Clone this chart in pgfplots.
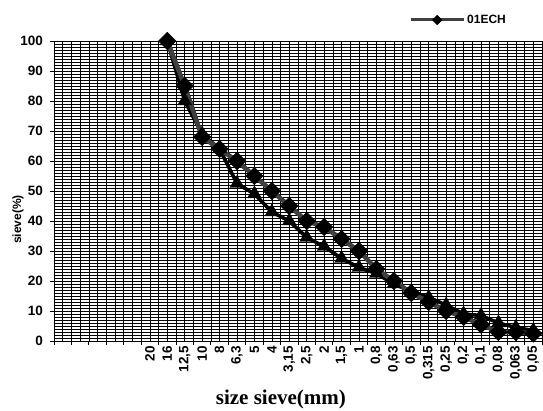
\documentclass[border=0pt]{standalone}
\usepackage{pgfplots}
\pgfplotsset{compat=1.18}
\usepackage{fontspec}
\setmainfont{Liberation Sans}
\newfontfamily\timesfont{Liberation Serif}
\definecolor{linegray}{RGB}{64,64,64}

\begin{document}
\begin{tikzpicture}
\path[use as bounding box] (-54pt,-70pt) rectangle (489pt,341pt);
\begin{axis}[
  scale only axis,
  width=488pt, height=300pt,
  at={(0pt,0pt)}, anchor=south west,
  xmin=0, xmax=28, ymin=0, ymax=100,
  clip=false,
  axis x line*=bottom, axis y line*=left,
  axis line style={line width=0.9pt, black},
  tick align=outside,
  major tick length=4pt,
  minor tick length=0pt,
  tick style={black, line width=0.8pt},
  xtick={0,...,28},
  xticklabels={},
  extra x ticks={0.5,1.5,...,27.5},
  extra x tick labels={,,,,,20,16,{12,5},10,8,{6,3},5,4,{3,15},{2,5},2,{1,5},1,{0,8},{0,63},{0,5},{0,315},{0,25},{0,2},{0,1},{0,08},{0,063},{0,05}},
  extra x tick style={grid=major, major tick length=0pt},
  xticklabel style={rotate=90, anchor=east, font=\fontsize{13.5}{15}\selectfont\bfseries, inner sep=0pt, inner xsep=5pt},
  ytick={0,10,...,100},
  minor y tick num=9,
  yticklabel style={font=\fontsize{13.5}{15}\selectfont\bfseries, inner sep=0pt, xshift=-7pt},
  /pgf/number format/assume math mode=true,
  xmajorgrids, ymajorgrids, yminorgrids,
  major grid style={black, line width=0.6pt},
  minor grid style={black, line width=0.6pt},
  xlabel={size sieve(mm)},
  xlabel style={font=\timesfont\bfseries\fontsize{21}{24}\selectfont, at={(axis description cs:0.465,0)}, anchor=base, yshift=-64pt},
  ylabel={sieve(\%)},
  ylabel style={font=\fontsize{12}{14}\selectfont\bfseries, at={(axis description cs:-0.0738,0.405)}, anchor=center},
  legend style={at={(axis description cs:0.829,1.07)}, anchor=center, draw=none, fill=none, font=\fontsize{12}{14}\selectfont\bfseries, inner sep=0pt},
  legend image code/.code={\draw[mark repeat=2, mark phase=2, #1, mark size=3.4pt, line width=3pt] plot coordinates {(0pt,0pt) (26.5pt,0pt) (53pt,0pt)};},
]
\addplot[black, line width=3.6pt, mark=triangle*, mark size=8pt, mark options={solid, fill=black, draw=black, line width=0.4pt}, forget plot] coordinates {
(6.5,100) (7.5,80) (8.5,69) (9.5,64) (10.5,52.5) (11.5,49) (12.5,43) (13.5,40)
(14.5,34.5) (15.5,31.5) (16.5,27.5) (17.5,24.5) (18.5,22.5) (19.5,19) (20.5,16.5)
(21.5,14.5) (22.5,12) (23.5,9) (24.5,8.5) (25.5,6) (26.5,4.5) (27.5,3.5)
};
\addplot[linegray, line width=4.6pt, mark=square*, mark size=6.2pt, mark options={solid, rotate=45, fill=black, draw=black, line width=0.4pt}] coordinates {
(6.5,100) (7.5,85) (8.5,68) (9.5,64) (10.5,60) (11.5,55) (12.5,50) (13.5,45)
(14.5,40) (15.5,38) (16.5,34) (17.5,30) (18.5,24) (19.5,20) (20.5,16)
(21.5,13) (22.5,10) (23.5,8) (24.5,5.5) (25.5,3) (26.5,3) (27.5,2.5)
};
\addlegendentry{01ECH}
\end{axis}
\end{tikzpicture}
\end{document}
